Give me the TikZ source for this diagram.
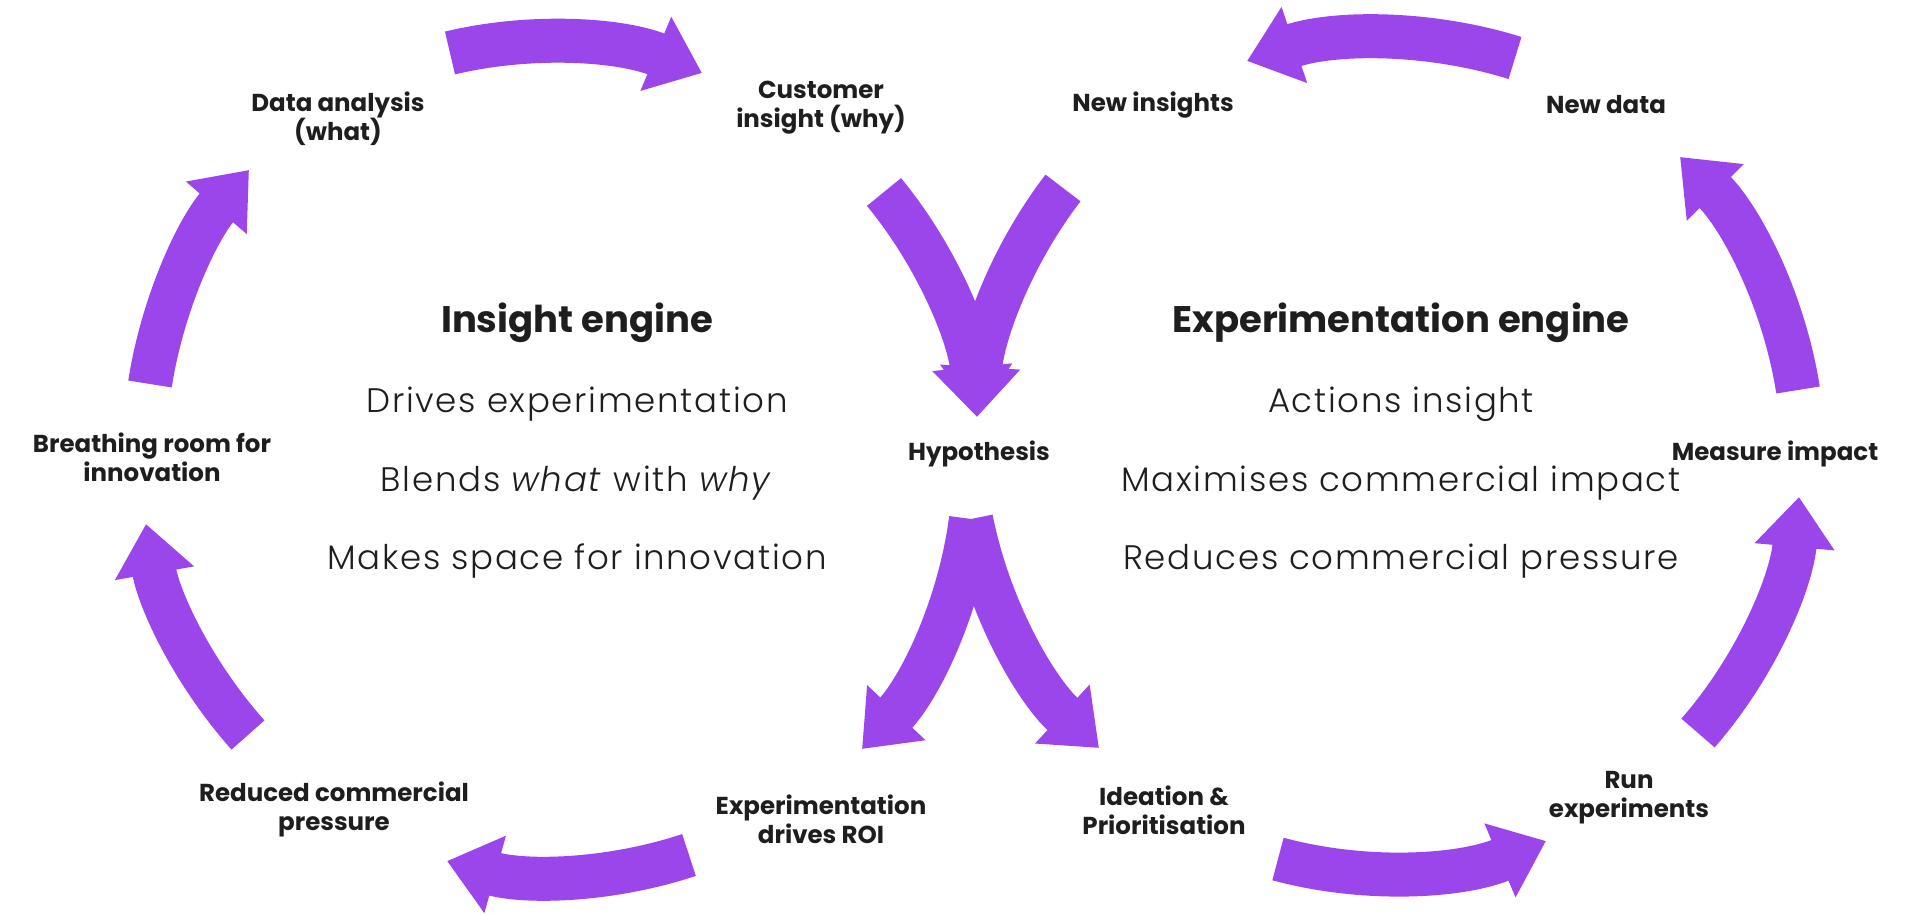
\documentclass[tikz,border=0pt]{standalone}
\usepackage{fontspec}
\setmainfont{Poppins}
\newfontfamily\lightfont{Poppins}[UprightFont=* Light,ItalicFont=* Light Italic,LetterSpace=5]
\usetikzlibrary{arrows.meta}

\definecolor{arrowpurple}{HTML}{9A46EA}
\definecolor{inkgrey}{HTML}{1E1E1E}

\begin{document}
\begin{tikzpicture}[x=1pt,y=1pt,
			lbl/.style={
				font=\fontsize{24.5}{29}\selectfont\bfseries,
				text=inkgrey,
				align=center,
				inner sep=0pt},
			hd/.style={
				font=\fontsize{37}{44}\selectfont\bfseries,
				text=inkgrey,
				anchor=base,
				inner sep=0pt},
			bd/.style={
				font=\lightfont\fontsize{34}{40}\selectfont,
				text=inkgrey,
				anchor=base,
				inner sep=0pt},
			cyc/.style={
				draw=arrowpurple,
				line width=44pt,
				looseness=0.87,
				-{Triangle[length=50pt,width=77pt]}}]
			
			\useasboundingbox (0,0) rectangle (1905,915);
			
			% insight engine
			\node[lbl] (dat) at (338,796) {Data analysis\\(what)};
			\node[lbl] (cust) at (821,807) {Customer\\insight (why)};
			\node[lbl] (hyp) at (979,461) {Hypothesis};
			\node[lbl] (roi) at (821,96) {Experimentation\\drives ROI};
			\node[lbl] (press) at (334,106) {Reduced commercial\\pressure};
			\node[lbl] (room) at (152,458) {Breathing room for\\innovation};
			
			% experimentation engine
			\node[lbl] (ideas) at (1164,105) {Ideation \&\\Prioritisation};
			\node[lbl] (run) at (1629,117) {Run\\experiments};
			\node[lbl] (meas) at (1775,461) {Measure impact};
			\node[lbl] (newd) at (1606,810) {New data};
			\node[lbl] (newi) at (1153,810) {New insights};
			
			\node[hd] (ieng) at (577,582) {Insight engine};
			\node[bd] (ieng1) at (577,502) {Drives experimentation};
			\node[bd] (ieng2) at (577,423) {Blends \textit{what} with \textit{why}};
			\node[bd] (ieng3) at (577,345) {Makes space for innovation};
			
			\node[hd] (eeng) at (1401,582) {Experimentation engine};
			\node[bd] (eeng1) at (1401,502) {Actions insight};
			\node[bd] (eeng2) at (1401,423) {Maximises commercial impact};
			\node[bd] (eeng3) at (1401,345) {Reduces commercial pressure};
			
			% arrow ends
			\coordinate (vtip) at (977,498);
			\coordinate (split) at (971,396);
			
			\coordinate (in1s) at (450,862);
			\coordinate (in1e) at (702,842);
			\coordinate (in2s) at (884,723);
			\coordinate (in3e) at (862,166);
			\coordinate (in4s) at (689,60);
			\coordinate (in4e) at (447,54);
			\coordinate (in5s) at (248,180);
			\coordinate (in5e) at (146,391);
			\coordinate (in6s) at (150,531);
			\coordinate (in6e) at (249,745);
			
			\coordinate (ex1e) at (1099,167);
			\coordinate (ex2s) at (1278,56);
			\coordinate (ex2e) at (1546,74);
			\coordinate (ex3s) at (1698,182);
			\coordinate (ex3e) at (1799,418);
			\coordinate (ex4s) at (1798,525);
			\coordinate (ex4e) at (1680,758);
			\coordinate (ex5s) at (1515,857);
			\coordinate (ex5e) at (1247,854);
			\coordinate (ex6s) at (1063,727);
			
			\draw[cyc] (in1s) to[bend left=18] (in1e);
			\draw[cyc] (in2s) to[bend left=17] (vtip);
			\draw[cyc] (split) to[bend left=18] (in3e);
			\draw[cyc] (in4s) to[bend left=17] (in4e);
			\draw[cyc] (in5s) to[bend left=16] (in5e);
			\draw[cyc] (in6s) to[bend left=16] (in6e);
			
			\draw[cyc] (split) to[bend right=18] (ex1e);
			\draw[cyc] (ex2s) to[bend right=19] (ex2e);
			\draw[cyc] (ex3s) to[bend right=18] (ex3e);
			\draw[cyc] (ex4s) to[bend right=18] (ex4e);
			\draw[cyc] (ex5s) to[bend right=18] (ex5e);
			\draw[cyc] (ex6s) to[bend right=17] (vtip);
			
		\end{tikzpicture}
\end{document}
